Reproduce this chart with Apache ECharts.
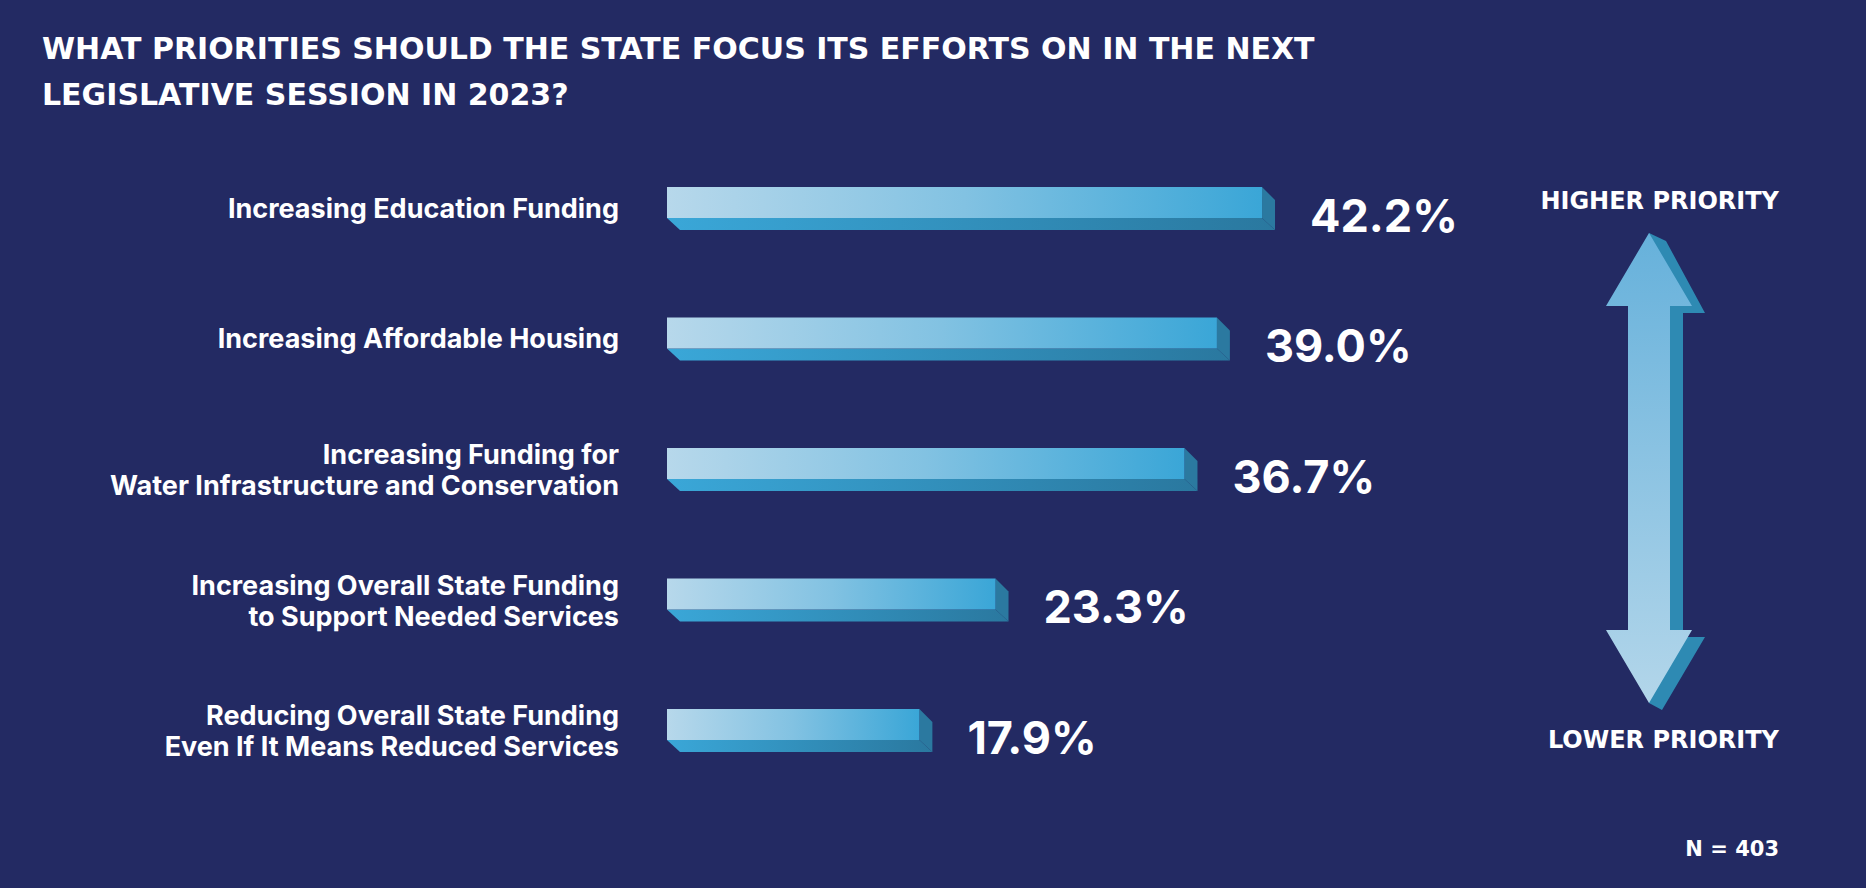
<!DOCTYPE html>
<html>
<head>
<meta charset="utf-8">
<script src="https://cdn.jsdelivr.net/npm/echarts@6/dist/echarts.min.js"></script>
<style>
html,body{margin:0;padding:0;background:#232a63;}
#c{width:1866px;height:888px;}
</style>
</head>
<body>
<div id="c"></div>
<script>
const titleLines = ['WHAT PRIORITIES SHOULD THE STATE FOCUS ITS EFFORTS ON IN THE NEXT', 'LEGISLATIVE SESSION IN 2023?'];
const categories = [
  'Increasing Education Funding',
  'Increasing Affordable Housing',
  'Increasing Funding for\nWater Infrastructure and Conservation',
  'Increasing Overall State Funding\nto Support Needed Services',
  'Reducing Overall State Funding\nEven If It Means Reduced Services'
];
const values = [42.2, 39.0, 36.7, 23.3, 17.9];
const higherLabel = 'HIGHER PRIORITY';
const lowerLabel = 'LOWER PRIORITY';
const noteText = 'N = 403';

const chart = echarts.init(document.getElementById('c'), null, {renderer: 'svg'});
const LG = echarts.graphic.LinearGradient;
const FONT = 'Inter, "Open Sans", sans-serif';
const CAPS_FONT = '"DejaVu Sans", Inter, sans-serif';

const data = values.map((v, i) => [v, i]);

function renderBar(params, api) {
  const v = api.value(0);
  const idx = api.value(1);
  const s = api.coord([0, idx]);
  const e = api.coord([v, idx]);
  const h = 31, d = 13, dy = 12;
  const x0 = s[0], x1 = e[0], y0 = s[1] - 15.5;
  const twoLine = categories[idx].indexOf('\n') >= 0;
  return {
    type: 'group',
    children: [
      {type: 'polygon', shape: {points: [[x0, y0 + h], [x1, y0 + h], [x1 + d, y0 + h + dy], [x0 + d, y0 + h + dy]]},
       style: {fill: new LG(0, 0, 1, 0, [{offset: 0, color: '#3aa7d8'}, {offset: 1, color: '#2a789f'}])}},
      {type: 'polygon', shape: {points: [[x1, y0], [x1 + d, y0 + dy + 1], [x1 + d, y0 + h + dy], [x1, y0 + h]]},
       style: {fill: '#2b79a0'}},
      {type: 'rect', shape: {x: x0, y: y0, width: x1 - x0, height: h},
       style: {fill: new LG(0, 0, 1, 0, [{offset: 0, color: '#b7d8eb'}, {offset: 0.5, color: '#82c2e2'}, {offset: 1, color: '#3aa6d7'}])}},
      {type: 'text', style: {x: x1 + 48, y: y0 + 28, text: v.toFixed(1) + '%', fill: '#ffffff',
        fontSize: 45, fontWeight: 'bold', fontFamily: FONT, verticalAlign: 'middle', align: 'left'}},
      {type: 'text', style: {x: x0 - 48, y: y0 + (twoLine ? 22 : 21), text: categories[idx], fill: '#ffffff',
        fontSize: 27, fontWeight: 'bold', fontFamily: FONT, verticalAlign: 'middle', align: 'right', lineHeight: 31}}
    ]
  };
}

// arrow geometry (decoration)
const ax = 1649, topY = 233, botY = 703;
const arrowGrad = new LG(0, 0, 0, 1, [{offset: 0, color: '#66b1db'}, {offset: 1, color: '#b3d6ea'}]);

chart.setOption({
  backgroundColor: '#232a63',
  title: {
    text: titleLines.join('\n'),
    left: 42, top: 25.5, padding: 0,
    textStyle: {color: '#ffffff', fontSize: 30, fontWeight: 'bold', fontFamily: CAPS_FONT, lineHeight: 46}
  },
  grid: {left: 667, width: 846, top: 137.25, height: 652.5},
  xAxis: {type: 'value', min: 0, max: 60, show: false},
  yAxis: {
    type: 'category', inverse: true, data: categories,
    axisLine: {show: false}, axisTick: {show: false}, splitLine: {show: false},
    axisLabel: {show: false}
  },
  series: [{
    type: 'custom',
    renderItem: renderBar,
    encode: {x: 0, y: 1},
    data: data,
    clip: false
  }],
  graphic: [
    // arrow side (depth)
    {type: 'polygon', shape: {points: [[ax, topY], [1666, 241], [1705, 313], [1683, 313], [1683, 637], [1705, 637], [1662, 710], [ax, botY]]},
     style: {fill: '#2e8ab3'}},
    // arrow front
    {type: 'polygon', shape: {points: [[ax, topY], [1692, 306], [1670, 306], [1670, 630], [1692, 630], [ax, botY], [1606, 630], [1628, 630], [1628, 306], [1606, 306]]},
     style: {fill: arrowGrad}},
    {type: 'text', style: {x: 1779, y: 201, text: higherLabel, fill: '#ffffff', fontSize: 24, fontWeight: 'bold', fontFamily: CAPS_FONT, align: 'right', verticalAlign: 'middle'}},
    {type: 'text', style: {x: 1779, y: 740, text: lowerLabel, fill: '#ffffff', fontSize: 24, fontWeight: 'bold', fontFamily: CAPS_FONT, align: 'right', verticalAlign: 'middle'}},
    {type: 'text', style: {x: 1779, y: 849, text: noteText, fill: '#ffffff', fontSize: 21, fontWeight: 'bold', fontFamily: CAPS_FONT, align: 'right', verticalAlign: 'middle'}}
  ]
});
</script>
</body>
</html>
